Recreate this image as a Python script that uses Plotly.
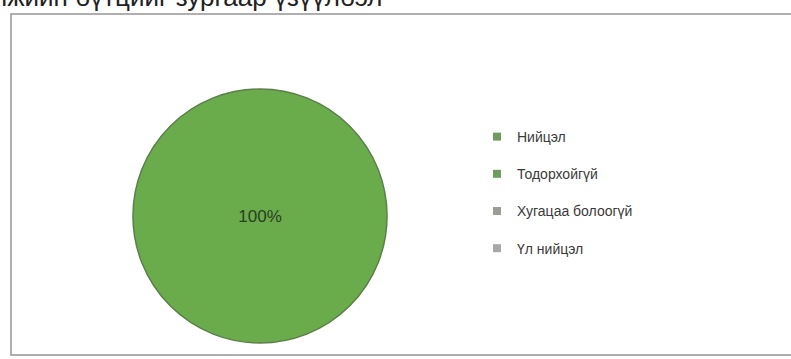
import plotly.graph_objects as go

W, H = 791, 359

categories = ["Нийцэл", "Тодорхойгүй", "Хугацаа болоогүй", "Үл нийцэл"]
values = [100, 0, 0, 0]
colors = ["#6aab4c", "#72a55a", "#98a38e", "#a9aba6"]
legend_colors = ["#6f9c5c", "#6f9c5c", "#9a9e96", "#a7a9a5"]
title_text = "лжийн бүтцийг зургаар үзүүлбэл"

total = sum(values)
shown = [i for i, v in enumerate(values) if v > 0]
pie_labels = [categories[i] for i in shown]
pie_values = [values[i] for i in shown]
pie_colors = [colors[i] for i in shown]
pie_text = [f"{values[i] / total * 100:.0f}%" for i in shown]

def px_x(p):
    return p / W

def px_y(p):
    return 1 - p / H

fig = go.Figure()
fig.add_trace(go.Pie(
    labels=pie_labels, values=pie_values, text=pie_text, textinfo="text",
    sort=False, direction="clockwise", showlegend=False,
    marker=dict(colors=pie_colors, line=dict(color="#5c7f4a", width=1.5)),
    textfont=dict(size=17, color="#2a4020", family="Liberation Sans"),
    insidetextorientation="horizontal",
    domain=dict(x=[px_x(133), px_x(387)], y=[px_y(343), px_y(89)]),
    hoverinfo="label+percent",
))
for i, (c, col) in enumerate(zip(categories, legend_colors)):
    fig.add_trace(go.Scatter(
        x=[None], y=[None], mode="markers", name=c, legendgroup=str(i),
        marker=dict(symbol="square", size=8, color=col),
    ))

fig.update_layout(
    width=W, height=H,
    margin=dict(l=0, r=0, t=0, b=0),
    paper_bgcolor="white", plot_bgcolor="white",
    xaxis=dict(visible=False), yaxis=dict(visible=False),
    legend=dict(
        x=px_x(477), y=px_y(121), xanchor="left", yanchor="top",
        font=dict(size=14, color="#3a3a3a", family="Liberation Sans"),
        tracegroupgap=16, bgcolor="rgba(0,0,0,0)",
    ),
    shapes=[dict(
        type="rect", xref="paper", yref="paper",
        x0=px_x(11), x1=px_x(800), y0=px_y(355), y1=px_y(14),
        line=dict(color="#959595", width=1.5),
    )],
    annotations=[dict(
        text=title_text, xref="paper", yref="paper", x=0, y=1,
        xanchor="left", yanchor="bottom", xshift=-10, yshift=-14,
        showarrow=False, font=dict(size=26, color="#222", family="Liberation Sans"),
    )],
)

fig.write_html(
    "out.html",
    config={"displayModeBar": False},
    post_script="document.body.style.margin='0';document.body.style.overflow='hidden';",
)
